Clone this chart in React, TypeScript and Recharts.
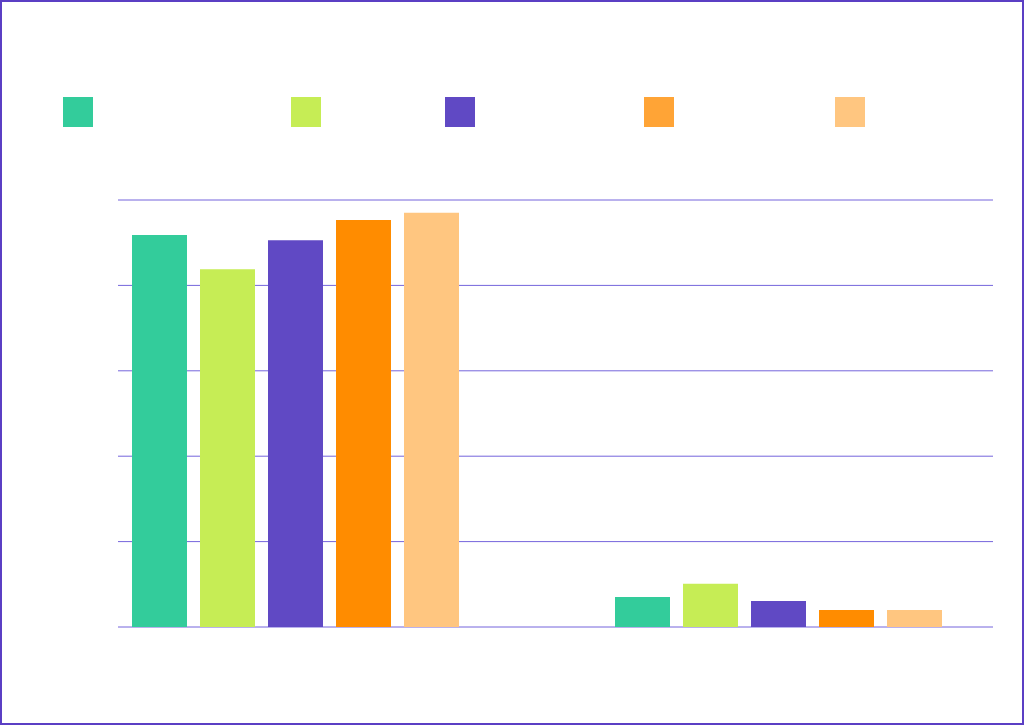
import { BarChart, Bar, XAxis, YAxis, CartesianGrid } from "recharts";

const categories = ["Group A", "Group B"];
const seriesNames = ["Series 1", "Series 2", "Series 3", "Series 4", "Series 5"];
const series1 = [91.8, 7.0];
const series2 = [83.8, 10.1];
const series3 = [90.6, 6.1];
const series4 = [95.3, 4.0];
const series5 = [97.0, 4.0];
const yTicks = [0, 20, 40, 60, 80, 100];

const barColors = ["#33cc9b", "#c6ed55", "#6049c4", "#ff8c00", "#ffc680"];
const legendColors = ["#33cc9b", "#c6ed55", "#6049c4", "#ffa436", "#ffc680"];
const legendSlots = [228, 154, 199, 191, 120];

const data = categories.map((name, i) => ({
  name,
  s1: series1[i],
  s2: series2[i],
  s3: series3[i],
  s4: series4[i],
  s5: series5[i],
}));

const keys = ["s1", "s2", "s3", "s4", "s5"];

function LegendBoxes() {
  return (
    <div style={{ position: "absolute", top: 95, left: 61, display: "flex" }}>
      {seriesNames.map((n, i) => (
        <div key={n} style={{ width: legendSlots[i], display: "flex", alignItems: "center" }}>
          <div style={{ width: 30, height: 30, background: legendColors[i] }} />
        </div>
      ))}
    </div>
  );
}

export default function App() {
  return (
    <div
      style={{
        position: "fixed",
        top: 0,
        left: 0,
        width: 1024,
        height: 725,
        border: "2px solid #5b3fc4",
        boxSizing: "border-box",
        background: "#fff",
      }}
    >
      <div style={{ position: "absolute", top: -2, left: -2 }}>
        <BarChart
          width={1024}
          height={725}
          data={data}
          margin={{ top: 200, left: 118, right: 31, bottom: 98 }}
          barSize={55}
          barGap={13}
        >
          <CartesianGrid vertical={false} stroke="#7565dc" strokeWidth={1} />
          <XAxis dataKey="name" hide padding={{ left: -64, right: -27 }} />
          <YAxis hide domain={[0, 100]} ticks={yTicks} />
          {keys.map((k, i) => (
            <Bar key={k} dataKey={k} name={seriesNames[i]} fill={barColors[i]} isAnimationActive={false} />
          ))}
        </BarChart>
      </div>
      <LegendBoxes />
    </div>
  );
}
